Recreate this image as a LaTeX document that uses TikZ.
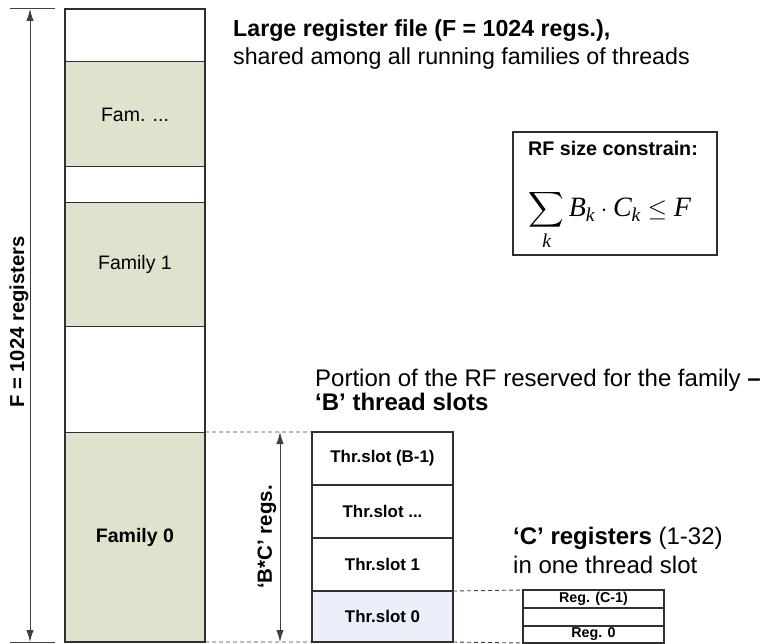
\documentclass[tikz,border=0pt]{standalone}
\usepackage{amsmath}
\usepackage{fontspec}
\setmainfont{Liberation Sans}
\newfontfamily\tms{Liberation Serif}
\usetikzlibrary{arrows.meta}
\definecolor{famfill}{HTML}{DFE3CE}
\definecolor{slotfill}{HTML}{EBEFF9}
\definecolor{linec}{HTML}{303030}
\definecolor{dimc}{HTML}{404040}
\newcommand\fsz[1]{\fontsize{#1bp}{#1bp}\selectfont}
\newcommand\tv[1]{\text{\tms\itshape #1}}
\begin{document}
\begin{tikzpicture}[x=1bp,y=-1bp,
  cell/.style={draw=linec, line width=1bp, minimum width=140bp, inner sep=0pt, outer sep=0pt, font=\fsz{19.5}},
  fam/.style={fill=famfill},
  slotbox/.style={draw=linec, line width=1.2bp, minimum width=141bp, minimum height=53bp, inner sep=0pt, outer sep=0pt, font=\fsz{16.9}\bfseries},
  regbox/.style={draw=linec, line width=1.4bp, minimum width=141bp, minimum height=18bp, inner sep=0pt, outer sep=0pt, font=\fsz{14.3}\bfseries},
  dimarrow/.style={draw=dimc, line width=1bp, {Latex[length=12bp,width=7.5bp]}-{Latex[length=12bp,width=7.5bp]}},
  tick/.style={draw=dimc, line width=1bp},
  guide/.style={draw=dimc, line width=0.9bp, dash pattern=on 4bp off 3bp},
  bigtext/.style={anchor=base west, inner sep=0pt, font=\fsz{24}},
  ]
\useasboundingbox (0,0) rectangle (779,644);

% main register file column
\node[cell, minimum height=53bp] (c0) at (135,35.5) {};
\node[cell, fam, minimum height=105bp] (c1) at (135,114.5) {Fam. ...};
\node[cell, minimum height=36bp] (c2) at (135,185) {};
\node[cell, fam, minimum height=123bp] (c3) at (135,264.5) {Family 1};
\node[cell, minimum height=106bp] (c4) at (135,379) {};
\node[cell, fam, minimum height=210bp] (c5) at (135,537) {\bfseries Family 0};
\draw[line width=2.2bp, linec] (c0.north west) rectangle (c5.south east);

% F dimension
\coordinate (ftl) at (10,9);
\coordinate (ftr) at (55,9);
\coordinate (fbl) at (10,642);
\coordinate (fbr) at (55,642);
\coordinate (fa) at (30,9);
\coordinate (fb) at (30,642);
\draw[tick] (ftl) -- (ftr);
\draw[tick] (fbl) -- (fbr);
\draw[dimarrow] (fa) -- (fb);
\node[rotate=90, font=\fsz{20.2}\bfseries] (flab) at (19,322) {F = 1024 registers};

% thread slots
\node[slotbox] (s3) at (382.5,458.5) {Thr.slot (B-1)};
\node[slotbox] (s2) at (382.5,511.5) {Thr.slot ...};
\node[slotbox] (s1) at (382.5,564.5) {Thr.slot 1};
\node[slotbox, fill=slotfill, minimum height=51bp] (s0) at (382.5,616.5) {Thr.slot 0};

\draw[guide] (c5.north east) -- (s3.north west);
\draw[guide] (c5.south east) -- (s0.south west);

% B*C dimension
\coordinate (bca) at (280,432);
\coordinate (bcb) at (280,642);
\draw[dimarrow] (bca) -- (bcb);
\node[rotate=90, font=\fsz{20.5}\bfseries] (bclab) at (267,537) {‘B*C’ regs.};

% registers of one slot
\node[regbox] (r2) at (593.5,599) {Reg. (C-1)};
\node[regbox] (r1) at (593.5,617) {};
\node[regbox, minimum height=17bp] (r0) at (593.5,634.5) {Reg. 0};
\draw[guide] (s0.north east) -- (r2.north west);
\draw[guide] (s0.south east) -- (r0.south west);

% constraint box
\node[draw=linec, line width=1.2bp, minimum width=204bp, minimum height=123bp, inner sep=0pt] (rfbox) at (615,193.5) {};
\node[font=\fsz{19.7}\bfseries] (rftitle) at (613,148) {RF size constrain:};
\node[font=\fsz{28}] (rfform) at (610,220) {$\displaystyle\sum_{\tv{k}} \tv{B}_{\tv{k}}\cdot \tv{C}_{\tv{k}} \le \tv{F}$};

% explanatory texts
\node[bigtext, font=\fsz{23.2}\bfseries] (t1) at (233,37) {Large register file (F = 1024 regs.),};
\node[bigtext, font=\fsz{23.2}] (t2) at (233,65) {shared among all running families of threads};
\node[bigtext] (p1) at (315,386) {Portion of the RF reserved for the family \textbf{–}};
\node[bigtext, font=\fsz{24}\bfseries] (p2) at (315,410) {‘B’ thread slots};
\node[bigtext] (q1) at (513,544) {\textbf{‘C’ registers} (1-32)};
\node[bigtext] (q2) at (513,573) {in one thread slot};
\end{tikzpicture}
\end{document}
